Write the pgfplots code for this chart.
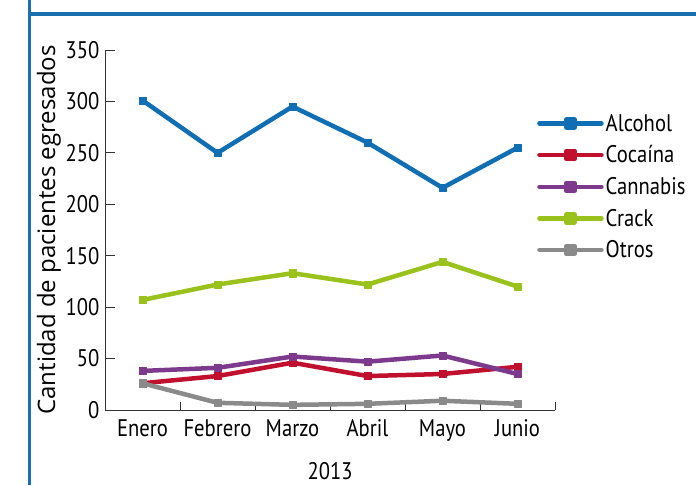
\documentclass[border=0pt]{standalone}
\usepackage{pgfplots}
\pgfplotsset{compat=1.18}
\usepackage{fontspec}
\setmainfont{PT Sans}
\newfontfamily\condfont[FakeStretch=0.86]{PT Sans}
\newfontfamily\labfont{Open Sans}
\definecolor{calc}{HTML}{0F6EB4}
\definecolor{ccoc}{HTML}{C0102E}
\definecolor{ccan}{HTML}{7D3A8C}
\definecolor{ccra}{HTML}{99C21C}
\definecolor{cotr}{HTML}{8A8A8A}
\definecolor{frame}{HTML}{1A6FB0}
\begin{document}
\begin{tikzpicture}[x=1pt,y=1pt]
\useasboundingbox (0,0) rectangle (696,485);
\draw[frame,line width=2.5pt] (29.5,0) -- (29.5,485);
\draw[frame,line width=4pt] (28,471) -- (696,471);
\begin{axis}[
  at={(105pt,75pt)}, anchor=south west,
  scale only axis, width=450pt, height=360pt,
  xmin=-0.5, xmax=5.5, ymin=0, ymax=350,
  axis lines=left, axis line style={-, black!80, line width=0.8pt},
  xtick={0,...,5},
  xticklabels={Enero,Febrero,Marzo,Abril,Mayo,Junio},
  minor xtick={0.5,1.5,...,5.5},
  major x tick style={draw=none},
  minor tick length=8pt,
  ytick={0,50,...,350},
  major tick length=10pt,
  tick style={black!80, line width=0.8pt},
  tick align=inside,
  /pgf/number format/assume math mode=true,
  xticklabel style={font=\condfont\fontsize{24}{26}\selectfont, text=black, yshift=-6pt},
  yticklabel style={font=\condfont\fontsize{24}{26}\selectfont, text=black, xshift=-2pt},
  xlabel={2013}, xlabel style={font=\condfont\fontsize{24}{26}\selectfont, yshift=-14pt},
  ylabel={Cantidad de pacientes egresados},
  ylabel style={font=\labfont\fontsize{24}{26}\selectfont, yshift=-2pt},
  every axis plot/.append style={line width=4.5pt, mark=square*, mark size=3.6pt,
     mark options={line width=0.4pt}, line join=round},
  clip=false,
  legend style={draw=none, fill=none, at={(0.96,0.828)}, anchor=north west,
    font=\condfont\fontsize{24}{26}\selectfont, row sep=9pt, inner sep=0pt,
    /tikz/every even column/.append style={column sep=2pt}},
  legend cell align=left,
  legend image code/.code={\draw[#1, line cap=round, mark=none] (0pt,0pt) -- (62pt,0pt);
     \fill[#1] (27pt,-4pt) rectangle (35pt,4pt);},
]
\addplot[calc] coordinates {(0,301) (1,250) (2,295) (3,260) (4,216) (5,255)};
\addlegendentry{Alcohol}
\addplot[ccoc] coordinates {(0,26) (1,33) (2,46) (3,33) (4,35) (5,42)};
\addlegendentry{Cocaína}
\addplot[ccan] coordinates {(0,38) (1,41) (2,52) (3,47) (4,53) (5,35)};
\addlegendentry{Cannabis}
\addplot[ccra] coordinates {(0,107) (1,122) (2,133) (3,122) (4,144) (5,120)};
\addlegendentry{Crack}
\addplot[cotr] coordinates {(0,26) (1,7) (2,5) (3,6) (4,9) (5,6)};
\addlegendentry{Otros}
\end{axis}
\end{tikzpicture}
\end{document}
